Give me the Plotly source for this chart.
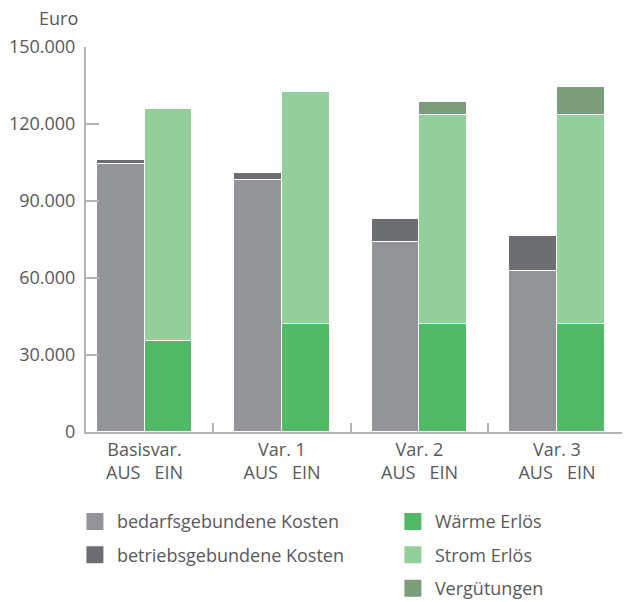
import plotly.graph_objects as go

# Kosten (AUS) und Erlöse (EIN) je Variante, in Euro
categories = ["Basisvar.", "Var. 1", "Var. 2", "Var. 3"]
bedarfsgebundene_kosten = [104600, 98300, 74100, 62700]
betriebsgebundene_kosten = [1500, 2700, 9000, 13800]
waerme_erloes = [35300, 42000, 42000, 42000]
strom_erloes = [90500, 90400, 81600, 81600]
verguetungen = [None, None, 4900, 11000]

y_ticks = [0, 30000, 60000, 90000, 120000, 150000]
y_ticktext = ["0", "30.000", "60.000", "90.000", "120.000", "150.000"]

colors = {
    "bedarf": "#939498",
    "betrieb": "#6d6e72",
    "waerme": "#52b966",
    "strom": "#92cf9b",
    "verg": "#7b9d7b",
}
text_color = "#58595b"
axis_color = "#b3b3b5"
font_family = "Open Sans"

idx = list(range(len(categories)))
half = 0.1745
bar_w = 0.349
x_aus = [i - half for i in idx]
x_ein = [i + half for i in idx]

fig = go.Figure()

series = [
    ("bedarfsgebundene Kosten", x_aus, bedarfsgebundene_kosten, colors["bedarf"], "legend"),
    ("betriebsgebundene Kosten", x_aus, betriebsgebundene_kosten, colors["betrieb"], "legend"),
    ("Wärme Erlös", x_ein, waerme_erloes, colors["waerme"], "legend2"),
    ("Strom Erlös", x_ein, strom_erloes, colors["strom"], "legend2"),
    ("Vergütungen", x_ein, verguetungen, colors["verg"], "legend2"),
]

for name, xs, ys, col, leg in series:
    fig.add_trace(go.Bar(
        x=xs, y=ys, width=bar_w, name=name,
        marker=dict(color=col, line=dict(color="white", width=1)),
        showlegend=False, hoverinfo="y+name",
    ))

# legend entries with larger swatches
for name, xs, ys, col, leg in series:
    fig.add_trace(go.Bar(
        x=[None], y=[None], name=name, legend=leg, legendgroup=name,
        marker=dict(color=col, line=dict(color=col, width=9)),
        showlegend=True,
    ))

legend_style = dict(
    yanchor="top", y=-0.185, xanchor="left",
    orientation="v", tracegroupgap=7, itemwidth=34,
    font=dict(size=18, color=text_color),
    bgcolor="rgba(0,0,0,0)",
)

fig.update_layout(
    width=624, height=602,
    margin=dict(l=86, r=2, t=47, b=170, autoexpand=False),
    barmode="stack",
    bargap=0,
    plot_bgcolor="white", paper_bgcolor="white",
    font=dict(family=font_family, size=17, color=text_color),
    legend=dict(x=-0.0244, **legend_style),
    legend2=dict(x=0.5688, **legend_style),
    annotations=[dict(
        text="Euro", xref="paper", yref="paper",
        x=-0.012, y=1.075, xanchor="right", yanchor="middle",
        showarrow=False, font=dict(size=18, color=text_color),
    )],
)

fig.update_xaxes(
    range=[-0.4255, 3.473],
    tickmode="array",
    tickvals=idx,
    ticktext=[f"{c}<br>AUS\u00a0\u00a0\u00a0EIN" for c in categories],
    ticks="", ticklen=0,
    tickfont=dict(size=18, color=text_color),
    showline=True, linecolor=axis_color, linewidth=2,
    showgrid=False, zeroline=False,
    minor=dict(tickmode="array", tickvals=[0.5, 1.5, 2.5],
               ticks="inside", ticklen=9, tickcolor=axis_color, tickwidth=1.5),
)

fig.update_yaxes(
    range=[0, 150000],
    tickmode="array", tickvals=y_ticks, ticktext=y_ticktext,
    ticks="inside", ticklen=13, tickcolor=axis_color, tickwidth=1.5,
    ticklabelstandoff=5,
    tickfont=dict(size=18, color=text_color),
    showline=True, linecolor=axis_color, linewidth=2,
    showgrid=False, zeroline=False,
)

fig.write_html("out.html")
